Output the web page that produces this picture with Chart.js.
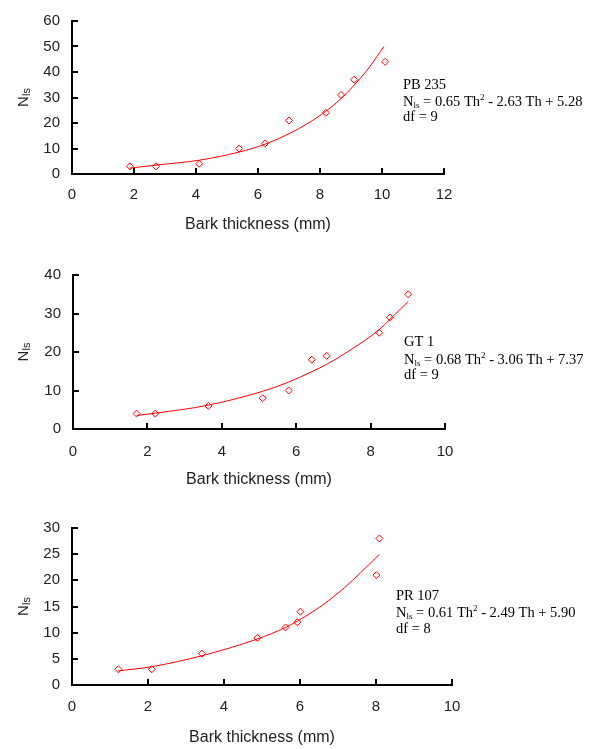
<!DOCTYPE html>
<html>
<head>
<meta charset="utf-8">
<title>Nls vs bark thickness</title>
<script src="https://cdn.jsdelivr.net/npm/chart.js"></script>
<style>
  body { margin: 0; background: #fff; }
  #wrap { position: relative; width: 593px; height: 749px; }
  canvas { position: absolute; left: 0; }
</style>
</head>
<body>
<div id="wrap">
  <canvas id="c1" width="593" height="245" style="top:0px"></canvas>
  <canvas id="c2" width="593" height="250" style="top:250px"></canvas>
  <canvas id="c3" width="593" height="244" style="top:505px"></canvas>
</div>
<script>
// clone names and fitted equation terms
const clones = ['PB 235', 'GT 1', 'PR 107'];
const eqA = ['0.65', '0.68', '0.61'];
const eqB = ['2.63', '3.06', '2.49'];
const eqC = ['5.28', '7.37', '5.90'];
const dfValues = [9, 9, 8];

// observed points (bark thickness in mm, Nls)
const pb235Th = [1.87, 2.71, 4.1, 5.39, 6.23, 7.0, 8.19, 8.68, 9.1, 10.1];
const pb235Nls = [3, 3, 4, 10, 12, 21, 24, 31, 37, 44];
const gt1Th = [1.71, 2.21, 3.64, 5.1, 5.8, 6.42, 6.82, 8.23, 8.52, 9.01];
const gt1Nls = [4, 4, 6, 8, 10, 18, 19, 25, 29, 35];
const pr107Th = [1.22, 2.1, 3.42, 4.88, 5.62, 5.93, 6.01, 8.01, 8.09];
const pr107Nls = [3, 3, 6, 9, 11, 12, 14, 21, 28];

// fitted trend lines
const pb235FitTh = [1.87, 2.71, 4.1, 5.39, 6.23, 7.0, 7.6, 8.19, 8.68, 9.1, 9.6, 10.06];
const pb235FitNls = [2.3, 3.5, 5.4, 8.6, 11.7, 15.8, 19.8, 24.6, 29.6, 34.8, 42, 50];
const gt1FitTh = [1.71, 2.21, 3.64, 5.1, 5.8, 6.42, 6.82, 7.5, 8.23, 8.52, 9.01];
const gt1FitNls = [3.5, 4.1, 6.2, 9.8, 12.2, 14.9, 16.8, 20.8, 25.8, 28.5, 33.1];
const pr107FitTh = [1.22, 2.1, 3.42, 4.88, 5.62, 5.93, 6.6, 7.17, 7.6, 8.08];
const pr107FitNls = [2.7, 3.5, 5.6, 8.8, 11, 12.2, 15.3, 18.6, 21.5, 24.9];

// axis ranges
const yMax = [60, 40, 30];
const yStep = [10, 10, 5];
const xMax = [12, 10, 10];

const panels = [
  { id: 'c1', h: 245, area: { l: 72, t: 20, r: 444, b: 174 }, tickPad: 12, titleY: 224.5, text: { x: 403, y: [89, 106, 121] },
    th: pb235Th, nls: pb235Nls, fitTh: pb235FitTh, fitNls: pb235FitNls },
  { id: 'c2', h: 250, area: { l: 73, t: 25, r: 445, b: 179 }, tickPad: 14, titleY: 230, text: { x: 404, y: [96, 114, 129] },
    th: gt1Th, nls: gt1Nls, fitTh: gt1FitTh, fitNls: gt1FitNls },
  { id: 'c3', h: 244, area: { l: 72, t: 23, r: 452, b: 180 }, tickPad: 13, titleY: 233, text: { x: 396, y: [95, 112, 128] },
    th: pr107Th, nls: pr107Nls, fitTh: pr107FitTh, fitNls: pr107FitNls }
];

const RED = '#ff0000';
const INK = '#222222';
Chart.defaults.font.family = "'Liberation Sans', Arial, sans-serif";
Chart.defaults.color = INK;

// short tick marks pointing into the plot area
const innerTicks = {
  id: 'innerTicks',
  afterDraw(chart) {
    const { ctx, scales: { x, y }, chartArea: a } = chart;
    ctx.save();
    ctx.strokeStyle = '#000';
    ctx.lineWidth = 2;
    ctx.beginPath();
    x.ticks.forEach(t => {
      const px = Math.round(x.getPixelForValue(t.value));
      ctx.moveTo(px, a.bottom);
      ctx.lineTo(px, a.bottom - 6);
    });
    y.ticks.forEach(t => {
      const py = Math.round(y.getPixelForValue(t.value));
      ctx.moveTo(a.left, py);
      ctx.lineTo(a.left + 6, py);
    });
    ctx.stroke();
    ctx.restore();
  }
};

// rotated "Nls" axis label and the equation block at the right
const labels = {
  id: 'labels',
  afterDraw(chart, args, opts) {
    const { ctx, chartArea: a } = chart;
    ctx.save();
    ctx.fillStyle = INK;
    ctx.textBaseline = 'alphabetic';
    ctx.translate(28, (a.top + a.bottom) / 2);
    ctx.rotate(-Math.PI / 2);
    ctx.font = "15px 'Liberation Sans', Arial, sans-serif";
    const nw = ctx.measureText('N').width;
    ctx.font = "11px 'Liberation Sans', Arial, sans-serif";
    const sw = ctx.measureText('ls').width;
    const x0 = -(nw + sw) / 2;
    ctx.font = "15px 'Liberation Sans', Arial, sans-serif";
    ctx.fillText('N', x0, 0);
    ctx.font = "11px 'Liberation Sans', Arial, sans-serif";
    ctx.fillText('ls', x0 + nw, 2);
    ctx.restore();

    const i = opts.index;
    const big = "14.5px 'Liberation Serif', 'Times New Roman', serif";
    const small = "9px 'Liberation Serif', 'Times New Roman', serif";
    const tx = opts.x;
    ctx.save();
    ctx.fillStyle = '#000';
    ctx.font = big;
    ctx.fillText(clones[i], tx, opts.y[0]);
    const parts = [
      [big, 'N', 0], [small, 'ls', 2], [big, ' = ' + eqA[i] + ' Th', 0], [small, '2', -6],
      [big, ' - ' + eqB[i] + ' Th + ' + eqC[i], 0]
    ];
    let cx = tx;
    parts.forEach(([f, s, dy]) => {
      ctx.font = f;
      ctx.fillText(s, cx, opts.y[1] + dy);
      cx += ctx.measureText(s).width;
    });
    ctx.font = big;
    ctx.fillText('df = ' + dfValues[i], tx, opts.y[2]);
    ctx.restore();
  }
};

panels.forEach((p, i) => {
  new Chart(document.getElementById(p.id), {
    type: 'scatter',
    data: {
      datasets: [
        {
          data: p.th.map((v, k) => ({ x: v, y: p.nls[k] })),
          pointStyle: 'rectRot',
          pointRadius: 3.5,
          pointBorderWidth: 1,
          pointBorderColor: RED,
          pointBackgroundColor: 'rgba(0,0,0,0)'
        },
        {
          data: p.fitTh.map((v, k) => ({ x: v, y: p.fitNls[k] })),
          showLine: true,
          borderColor: RED,
          borderWidth: 1,
          pointRadius: 0,
          cubicInterpolationMode: 'monotone'
        }
      ]
    },
    options: {
      responsive: false,
      animation: false,
      events: [],
      layout: { padding: { left: 0, top: p.area.t, right: 593 - p.area.r, bottom: 0 } },
      plugins: {
        legend: { display: false },
        tooltip: { enabled: false },
        labels: { index: i, x: p.text.x, y: p.text.y }
      },
      scales: {
        x: {
          type: 'linear',
          min: 0,
          max: xMax[i],
          ticks: { stepSize: 2, padding: p.tickPad, font: { size: 15 }, color: INK },
          grid: { display: true, drawOnChartArea: false, drawTicks: false },
          border: { color: '#000', width: 2 },
          title: {
            display: true,
            text: 'Bark thickness (mm)',
            color: INK,
            font: { size: 16 },
            padding: { top: 0, bottom: p.h - p.titleY - 9.6 }
          },
          afterFit(s) { s.height = p.h - p.area.b; }
        },
        y: {
          type: 'linear',
          min: 0,
          max: yMax[i],
          ticks: { stepSize: yStep[i], padding: 12, font: { size: 15 }, color: INK },
          grid: { display: true, drawOnChartArea: false, drawTicks: false },
          border: { color: '#000', width: 2 },
          afterFit(s) { s.width = p.area.l; }
        }
      }
    },
    plugins: [innerTicks, labels]
  });
});
</script>
</body>
</html>
